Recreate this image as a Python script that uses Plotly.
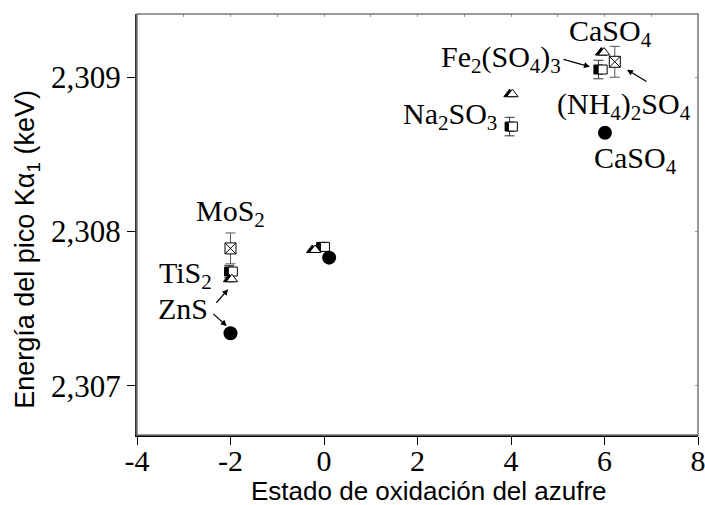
import plotly.graph_objects as go

# Sulfur oxidation state vs. Kα1 peak energy (keV) for several sulfur compounds
circle_x = [-2.0, 0.11, 6.01]
circle_y = [2.30734, 2.30783, 2.30864]

tri_fill_x = [-2.03, -0.25, 3.97, 5.93]
tri_open_x = [-1.97, -0.19, 4.03, 5.99]
tri_y = [2.30769, 2.30788, 2.30889, 2.30916]

sq_fill_x = [-2.03, -0.06, 3.97, 5.87]
sq_open_x = [-1.95, 0.02, 4.04, 5.96]
sq_y = [2.30774, 2.30790, 2.30868, 2.30905]
sq_err = [0.00004, 0.0, 0.00006, 0.00006]

xsq_x = [-2.0, 6.22]
xsq_y = [2.30789, 2.30910]
xsq_err = [0.0001, 0.0001]

x_range = [-4, 8]
y_range = [2.30668, 2.30941]
x_ticks = [-4, -2, 0, 2, 4, 6, 8]
y_ticks = [2.307, 2.308, 2.309]
y_ticklabels = ["2,307", "2,308", "2,309"]

serif = "Liberation Serif"
sans = "Liberation Sans"

fig = go.Figure()

fig.add_trace(go.Scatter(
    x=xsq_x, y=xsq_y, mode="markers",
    error_y=dict(type="data", array=xsq_err, color="#555", thickness=1, width=5),
    marker=dict(symbol="square-x", size=11, color="white",
                line=dict(color="black", width=1)),
))
fig.add_trace(go.Scatter(
    x=sq_fill_x, y=sq_y, mode="markers",
    error_y=dict(type="data", array=sq_err, color="#333", thickness=1, width=5),
    marker=dict(symbol="square", size=9, color="black",
                line=dict(color="black", width=1)),
))
fig.add_trace(go.Scatter(
    x=sq_open_x, y=sq_y, mode="markers",
    marker=dict(symbol="square", size=9, color="white",
                line=dict(color="black", width=1)),
))
fig.add_trace(go.Scatter(
    x=tri_fill_x, y=tri_y, mode="markers",
    marker=dict(symbol="triangle-up", size=10, color="black",
                line=dict(color="black", width=1)),
))
fig.add_trace(go.Scatter(
    x=tri_open_x, y=tri_y, mode="markers",
    marker=dict(symbol="triangle-up", size=10, color="white",
                line=dict(color="black", width=1)),
))
fig.add_trace(go.Scatter(
    x=circle_x, y=circle_y, mode="markers",
    marker=dict(symbol="circle", size=14, color="black"),
))
# invisible trace so the mirrored top/right axes get drawn
fig.add_trace(go.Scatter(x=[None], y=[None], xaxis="x2", yaxis="y2",
                         mode="markers", hoverinfo="skip"))

# compound labels
labels = [
    ("CaSO<sub>4</sub>", 6.12, 2.309285),
    ("Fe<sub>2</sub>(SO<sub>4</sub>)<sub>3</sub>", 3.78, 2.309120),
    ("(NH<sub>4</sub>)<sub>2</sub>SO<sub>4</sub>", 6.42, 2.308815),
    ("Na<sub>2</sub>SO<sub>3</sub>", 2.70, 2.308750),
    ("CaSO<sub>4</sub>", 6.66, 2.308465),
    ("MoS<sub>2</sub>", -2.01, 2.308118),
    ("TiS<sub>2</sub>", -2.97, 2.307715),
    ("ZnS", -3.02, 2.307502),
]
for text, lx, ly in labels:
    fig.add_annotation(x=lx, y=ly, text=text, showarrow=False,
                       xanchor="center", yanchor="middle",
                       font=dict(family=serif, size=30, color="black"))

# pointer arrows (tail -> head)
arrows = [
    ((5.09, 2.309118), (5.69, 2.309068)),
    ((6.93, 2.308966), (6.48, 2.309049)),
    ((-2.33, 2.307528), (-2.05, 2.307625)),
    ((-2.40, 2.307474), (-2.08, 2.307387)),
]
for (tx, ty), (hx, hy) in arrows:
    fig.add_annotation(x=hx, y=hy, ax=tx, ay=ty, axref="x", ayref="y",
                       text="", showarrow=True, arrowhead=2, arrowsize=1,
                       arrowwidth=1.2, arrowcolor="black")

# axis titles
fig.add_annotation(x=0.52, y=-0.133, xref="paper", yref="paper",
                   text="Estado de oxidación del azufre", showarrow=False,
                   xanchor="center", yanchor="middle",
                   font=dict(family=sans, size=26, color="black"))
fig.add_annotation(x=-0.196, y=0.44, xref="paper", yref="paper",
                   text="Energía del pico Kα<sub>1</sub> (keV)", showarrow=False,
                   textangle=-90, xanchor="center", yanchor="middle",
                   font=dict(family=sans, size=27, color="black"))

# gray frame around the plotting area
fig.add_shape(type="rect", xref="paper", yref="paper", x0=0, y0=0, x1=1, y1=1,
              line=dict(color="#777", width=1.5), layer="above")

fig.update_layout(
    width=705, height=505,
    margin=dict(l=137, r=7, t=14, b=70),
    plot_bgcolor="white", paper_bgcolor="white",
    showlegend=False,
    xaxis=dict(
        range=x_range, tickvals=x_ticks, ticktext=[str(v) for v in x_ticks],
        showgrid=False, zeroline=False, showline=True, linecolor="black",
        linewidth=2, ticks="outside", ticklen=8, tickcolor="black", tickwidth=1,
        tickfont=dict(family=serif, size=30, color="black"), automargin=False,
        ticklabeloverflow="allow", ticklabelstandoff=-10,
    ),
    yaxis=dict(
        range=y_range, tickvals=y_ticks, ticktext=y_ticklabels,
        showgrid=False, zeroline=False, showline=True, linecolor="#333",
        linewidth=2, ticks="outside", ticklen=8, tickcolor="black", tickwidth=1,
        tickfont=dict(family=serif, size=31, color="black"), automargin=False,
    ),
    xaxis2=dict(
        overlaying="x", side="top", range=x_range, dtick=1, tick0=-4,
        ticks="inside", ticklen=3, tickcolor="#999", showticklabels=False,
        showgrid=False, zeroline=False, showline=False, automargin=False,
    ),
    yaxis2=dict(
        overlaying="y", side="right", range=y_range, tickvals=y_ticks,
        ticks="inside", ticklen=3, tickcolor="#999", showticklabels=False,
        showgrid=False, zeroline=False, showline=False, automargin=False,
    ),
)

fig.write_html("out.html")
